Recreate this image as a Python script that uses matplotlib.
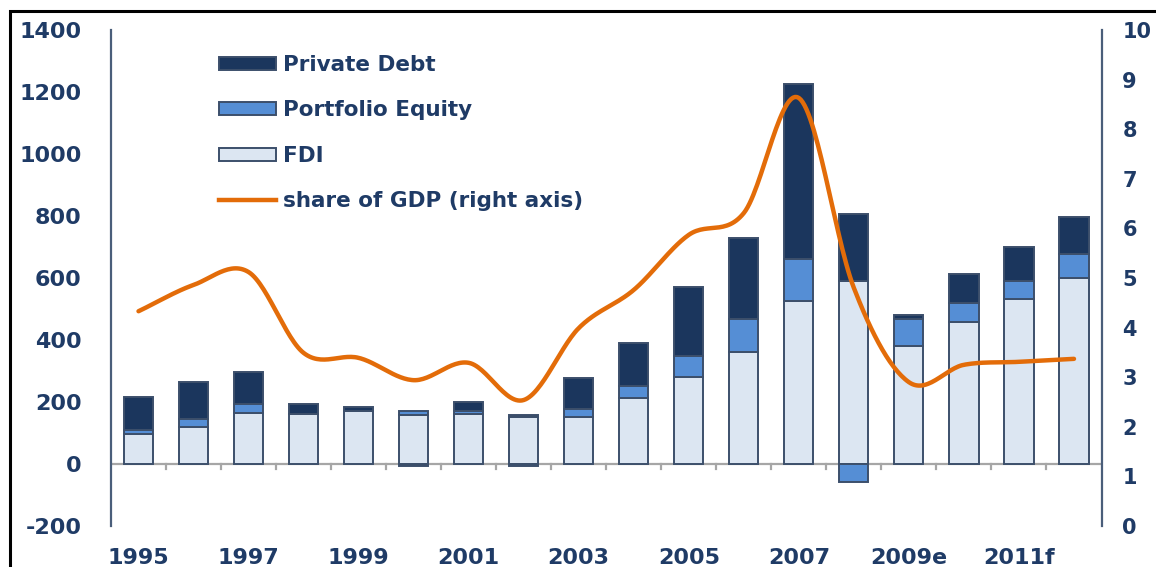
import matplotlib
matplotlib.use("Agg")
import matplotlib.pyplot as plt
import numpy as np
from matplotlib.patches import Rectangle
from matplotlib.lines import Line2D
from matplotlib.transforms import blended_transform_factory

years = ["1995", "1996", "1997", "1998", "1999", "2000", "2001", "2002", "2003",
         "2004", "2005", "2006", "2007", "2008", "2009e", "2010f", "2011f", "2012f"]
fdi = [96, 120, 163, 162, 172, 158, 162, 151, 153, 214, 280, 361, 525, 590, 382, 458, 531, 601]
equity = [14, 25, 29, 0, 0, 13, 9, -6, 23, 39, 69, 107, 135, -57, 86, 61, 59, 76]
debt = [105, 120, 105, 33, 13, -6, 28, 7, 100, 136, 223, 262, 566, 216, 13, 94, 109, 121]
gdp_share = [4.33, 4.86, 5.12, 3.49, 3.39, 2.94, 3.29, 2.54, 3.99, 4.76, 5.87, 6.31,
             8.63, 4.8, 2.9, 3.25, 3.31, 3.37]

W, H = 1156, 567
txt = "#1F3B66"
edge = "#3C4F6B"
spine_c = "#4A5E7A"

plt.rcParams["font.family"] = ["DejaVu Sans"]
plt.rcParams["axes.unicode_minus"] = False

fig = plt.figure(figsize=(W / 100, H / 100), dpi=100)
ax = fig.add_axes([111 / W, 1 - 526 / H, (1101.5 - 111) / W, 496 / H])

x = np.arange(len(years))
width = 0.53
series = [("FDI", fdi, "#DCE6F2"), ("Portfolio Equity", equity, "#558ED5"),
          ("Private Debt", debt, "#1B365D")]
pos = np.zeros(len(x))
neg = np.zeros(len(x))
handles = {}
for name, vals, col in series:
    vals = np.array(vals, dtype=float)
    bottom = np.where(vals >= 0, pos, neg)
    bars = ax.bar(x, vals, width, bottom=bottom, color=col, edgecolor=edge,
                  linewidth=1.4, zorder=3, label=name)
    handles[name] = bars
    pos = pos + np.where(vals >= 0, vals, 0)
    neg = neg + np.where(vals < 0, vals, 0)

ax.set_xlim(-0.5, len(x) - 0.5)
ax.set_ylim(-200, 1400)
ax.set_yticks(np.arange(-200, 1401, 200))
ax.tick_params(axis="y", length=0, pad=21, labelsize=16, labelcolor=txt)
for lab in ax.get_yticklabels():
    lab.set_fontweight("bold")
ax.set_xticks([])
for s in ["top", "right", "bottom"]:
    ax.spines[s].set_visible(False)
ax.spines["left"].set_color(spine_c)
ax.spines["left"].set_linewidth(1.6)

# zero line with category boundary ticks
ax.axhline(0, color="#A6A6A6", lw=1.6, zorder=2)
for b in np.arange(0.5, len(x) - 1, 1.0):
    ax.plot([b, b], [0, -17], color="#A6A6A6", lw=1.6, zorder=2)

trans = blended_transform_factory(ax.transData, ax.transAxes)
for i in range(0, len(years), 2):
    ax.text(x[i], -0.044, years[i], transform=trans, ha="center", va="top",
            fontsize=16, fontweight="bold", color=txt)

# right axis with smoothed line
ax2 = ax.twinx()
ax2.set_ylim(0, 10)
ax2.set_yticks(range(0, 11))
ax2.tick_params(axis="y", length=0, pad=15, labelsize=15, labelcolor=txt)
for lab in ax2.get_yticklabels():
    lab.set_fontweight("bold")
for s in ["top", "left", "bottom"]:
    ax2.spines[s].set_visible(False)
ax2.spines["right"].set_color(spine_c)
ax2.spines["right"].set_linewidth(1.6)

# bezier smoothing through the points, like Excel's smoothed line
p = np.array(gdp_share, dtype=float)
pts = np.concatenate([[2 * p[0] - p[1]], p, [2 * p[-1] - p[-2]]])
xs, ys = [], []
t = np.linspace(0, 1, 30)
for i in range(len(p) - 1):
    p0, p1, p2, p3 = pts[i], pts[i + 1], pts[i + 2], pts[i + 3]
    c1 = p1 + (p2 - p0) / 6
    c2 = p2 - (p3 - p1) / 6
    seg = ((1 - t) ** 3) * p1 + 3 * ((1 - t) ** 2) * t * c1 + 3 * (1 - t) * t ** 2 * c2 + t ** 3 * p2
    xs.append(x[i] + t)
    ys.append(seg)
ax2.plot(np.concatenate(xs), np.concatenate(ys), color="#E36C09", lw=3.2,
         solid_capstyle="round", zorder=4)
ax.set_zorder(1)
ax2.set_zorder(2)
ax2.patch.set_visible(False)

leg_handles = [handles["Private Debt"], handles["Portfolio Equity"], handles["FDI"],
               Line2D([], [], color="#E36C09", lw=3.2)]
leg_labels = ["Private Debt", "Portfolio Equity", "FDI", "share of GDP (right axis)"]
leg = fig.legend(leg_handles, leg_labels, loc="upper left",
                 bbox_to_anchor=(219 / W, 1 - 55 / H), frameon=False,
                 prop={"size": 15.5, "weight": "bold"}, handlelength=2.65,
                 handleheight=0.55, handletextpad=0.3, labelspacing=1.18,
                 borderpad=0, borderaxespad=0)
for tx in leg.get_texts():
    tx.set_color(txt)

fig.add_artist(Rectangle((10 / W, -0.5), 2, (1 - 11 / H) + 0.5, transform=fig.transFigure,
                         fill=False, edgecolor="black", linewidth=2.2))

fig.savefig("out.png", dpi=100)
